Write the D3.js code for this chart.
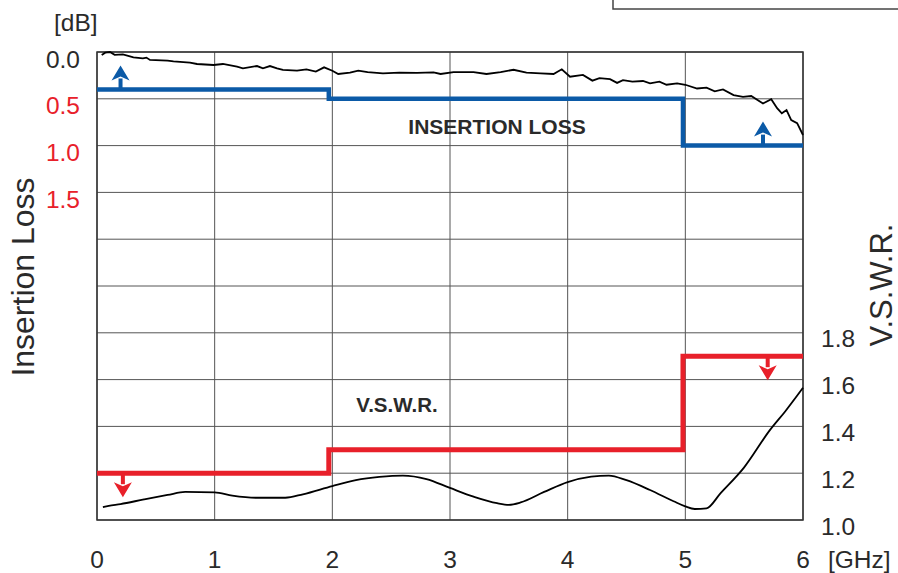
<!DOCTYPE html>
<html>
<head>
<meta charset="utf-8">
<script src="https://cdn.jsdelivr.net/npm/d3@7.9.0/dist/d3.min.js"></script>
<style>
  body { margin: 0; background: #fff; }
  svg { display: block; font-family: "Liberation Sans", Arial, sans-serif; }
</style>
</head>
<body>
<div id="chart"></div>
<script>
const width = 898;
const height = 573;

// frequency ticks [GHz]
const freqTicks = [0, 1, 2, 3, 4, 5, 6];
// left axis (insertion loss, dB)
const lossTicks = [0.0, 0.5, 1.0, 1.5];
// right axis (V.S.W.R.)
const vswrTicks = [1.0, 1.2, 1.4, 1.6, 1.8];

// measured insertion loss [GHz, dB]
const lossFreq = [0.04, 0.07, 0.11, 0.15, 0.22, 0.31, 0.39, 0.42, 0.45, 0.6, 0.65, 0.79, 0.85, 0.99, 1.07,
  1.19, 1.24, 1.36, 1.41, 1.47, 1.53, 1.58, 1.70, 1.78, 1.86, 1.93, 2.0, 2.05, 2.15, 2.22, 2.3, 2.43,
  2.57, 2.72, 2.86, 2.92, 3.03, 3.2, 3.31, 3.43, 3.54, 3.65, 3.77, 3.88, 3.95, 4.02, 4.13, 4.21, 4.27,
  4.36, 4.42, 4.47, 4.55, 4.64, 4.7, 4.78, 4.84, 4.93, 5.0, 5.1, 5.18, 5.25, 5.32, 5.41, 5.49, 5.56,
  5.66, 5.73, 5.78, 5.82, 5.86, 5.9, 5.95, 6.0];
const lossDb = [0.032, 0.007, 0.0, 0.03, 0.025, 0.057, 0.068, 0.06, 0.085, 0.093, 0.1, 0.114, 0.128, 0.139, 0.128,
  0.157, 0.174, 0.15, 0.174, 0.15, 0.174, 0.19, 0.2, 0.185, 0.21, 0.164, 0.2, 0.235, 0.22, 0.2, 0.214, 0.228,
  0.22, 0.224, 0.217, 0.235, 0.214, 0.214, 0.235, 0.214, 0.19, 0.22, 0.228, 0.235, 0.185, 0.264, 0.245, 0.306, 0.28,
  0.29, 0.33, 0.30, 0.317, 0.31, 0.335, 0.317, 0.35, 0.335, 0.35, 0.39, 0.38, 0.42, 0.40, 0.46, 0.48, 0.47,
  0.55, 0.505, 0.60, 0.655, 0.62, 0.727, 0.76, 0.887];

// measured V.S.W.R. [GHz, ratio]
const vswrFreq = [0.05, 0.1, 0.2, 0.4, 0.6, 0.75, 1.0, 1.15, 1.35, 1.6, 1.75, 2.0, 2.2, 2.4, 2.6, 2.8, 3.0,
  3.2, 3.4, 3.5, 3.6, 3.8, 4.0, 4.2, 4.35, 4.5, 4.7, 4.9, 5.0, 5.08, 5.18, 5.3, 5.5, 5.72, 5.85, 6.0];
const vswrVal = [1.055, 1.06, 1.068, 1.088, 1.107, 1.12, 1.118, 1.104, 1.095, 1.095, 1.11, 1.145, 1.17, 1.184, 1.19, 1.175, 1.137,
  1.10, 1.072, 1.065, 1.075, 1.12, 1.162, 1.185, 1.19, 1.17, 1.128, 1.08, 1.058, 1.047, 1.05, 1.115, 1.225, 1.385, 1.465, 1.565];

// specification limits: [from GHz, to GHz, value]
const lossSpec = [[0, 1.97, 0.4], [1.97, 4.98, 0.5], [4.98, 6, 1.0]];
const vswrSpec = [[0, 1.97, 1.2], [1.97, 4.98, 1.3], [4.98, 6, 1.7]];

// limit arrows [GHz, value]
const lossArrows = [[0.2, 0.4], [5.66, 1.0]];
const vswrArrows = [[0.22, 1.2], [5.7, 1.7]];

const blue = '#0b5aa7';
const red = '#e8202a';
const ink = '#2a2a2a';

const x = d3.scaleLinear().domain([0, 6]).range([97, 803]);
const yLoss = d3.scaleLinear().domain([0, 5]).range([52, 520]);
const yVswr = d3.scaleLinear().domain([1.0, 3.0]).range([520, 52]);

const svg = d3.select('#chart').append('svg')
  .attr('width', width)
  .attr('height', height);

// partial box at top right
svg.append('rect')
  .attr('x', 613).attr('y', -5)
  .attr('width', 300).attr('height', 14)
  .attr('fill', 'none').attr('stroke', '#444').attr('stroke-width', 1.5);

// grid
const grid = svg.append('g');
grid.selectAll('line.h')
  .data(d3.range(0, 5.01, 0.5))
  .enter().append('line')
  .attr('x1', x(0)).attr('x2', x(6))
  .attr('y1', d => yLoss(d)).attr('y2', d => yLoss(d))
  .attr('stroke', '#555').attr('stroke-width', 1);
grid.selectAll('line.v')
  .data(freqTicks)
  .enter().append('line')
  .attr('y1', yLoss(0)).attr('y2', yLoss(5))
  .attr('x1', d => x(d)).attr('x2', d => x(d))
  .attr('stroke', '#555').attr('stroke-width', 1);
svg.append('rect')
  .attr('x', x(0)).attr('y', yLoss(0))
  .attr('width', x(6) - x(0)).attr('height', yLoss(5) - yLoss(0))
  .attr('fill', 'none').attr('stroke', '#333').attr('stroke-width', 1.5);

// spec lines
const stepPts = spec => {
  const pts = [];
  spec.forEach(s => { pts.push([s[0], s[2]]); pts.push([s[1], s[2]]); });
  return pts;
};
svg.append('path')
  .datum(stepPts(lossSpec))
  .attr('d', d3.line().x(d => x(d[0])).y(d => yLoss(d[1])))
  .attr('fill', 'none').attr('stroke', blue).attr('stroke-width', 4.5);
svg.append('path')
  .datum(stepPts(vswrSpec))
  .attr('d', d3.line().x(d => x(d[0])).y(d => yVswr(d[1])))
  .attr('fill', 'none').attr('stroke', red).attr('stroke-width', 5);

// arrows
function arrow(g, px, y0, dir, color) {
  // dir = -1 up, +1 down
  const len = 24, head = 15, hw = 9;
  const tip = y0 + dir * len;
  g.append('line')
    .attr('x1', px).attr('x2', px)
    .attr('y1', y0).attr('y2', tip - dir * head + dir * 2)
    .attr('stroke', color).attr('stroke-width', 4);
  g.append('path')
    .attr('d', `M${px},${tip} L${px - hw},${tip - dir * head} L${px},${tip - dir * (head - 4)} L${px + hw},${tip - dir * head} Z`)
    .attr('fill', color);
}
const arrowG = svg.append('g');
lossArrows.forEach(a => arrow(arrowG, x(a[0]), yLoss(a[1]), -1, blue));
vswrArrows.forEach(a => arrow(arrowG, x(a[0]), yVswr(a[1]), 1, red));

// measured curves
svg.append('path')
  .datum(d3.zip(lossFreq, lossDb))
  .attr('d', d3.line().x(d => x(d[0])).y(d => yLoss(d[1])))
  .attr('fill', 'none').attr('stroke', '#000').attr('stroke-width', 1.8);
svg.append('path')
  .datum(d3.zip(vswrFreq, vswrVal))
  .attr('d', d3.line().x(d => x(d[0])).y(d => yVswr(d[1])).curve(d3.curveMonotoneX))
  .attr('fill', 'none').attr('stroke', '#000').attr('stroke-width', 1.8);

// tick labels
svg.selectAll('text.xt')
  .data(freqTicks)
  .enter().append('text')
  .attr('x', d => x(d)).attr('y', 568)
  .attr('text-anchor', 'middle')
  .attr('font-size', 24.5).attr('fill', ink)
  .text(d => d);
svg.selectAll('text.yl')
  .data(lossTicks)
  .enter().append('text')
  .attr('x', 80).attr('y', d => yLoss(d) + 15.5)
  .attr('text-anchor', 'end')
  .attr('font-size', 24.5)
  .attr('fill', d => d === 0 ? ink : red)
  .text(d => d.toFixed(1));
svg.selectAll('text.yr')
  .data(vswrTicks)
  .enter().append('text')
  .attr('x', 821).attr('y', d => yVswr(d) + 14.5)
  .attr('font-size', 24.5).attr('fill', ink)
  .text(d => d.toFixed(1));

// units and titles
svg.append('text').attr('x', 54).attr('y', 31)
  .attr('font-size', 24.5).attr('fill', ink).text('[dB]');
svg.append('text').attr('x', 828).attr('y', 568)
  .attr('font-size', 24.5).attr('fill', ink).text('[GHz]');
svg.append('text')
  .attr('transform', 'translate(34,277) rotate(-90)')
  .attr('text-anchor', 'middle')
  .attr('font-size', 32).attr('fill', ink)
  .text('Insertion Loss');
svg.append('text')
  .attr('transform', 'translate(892,285) rotate(-90)')
  .attr('text-anchor', 'middle')
  .attr('font-size', 31).attr('fill', ink)
  .text('V.S.W.R.');
svg.append('text')
  .attr('x', 497).attr('y', 134)
  .attr('text-anchor', 'middle')
  .attr('font-size', 21).attr('font-weight', 'bold').attr('fill', ink)
  .text('INSERTION LOSS');
svg.append('text')
  .attr('x', 397).attr('y', 412)
  .attr('text-anchor', 'middle')
  .attr('font-size', 20.5).attr('font-weight', 'bold').attr('fill', ink)
  .text('V.S.W.R.');
</script>
</body>
</html>
